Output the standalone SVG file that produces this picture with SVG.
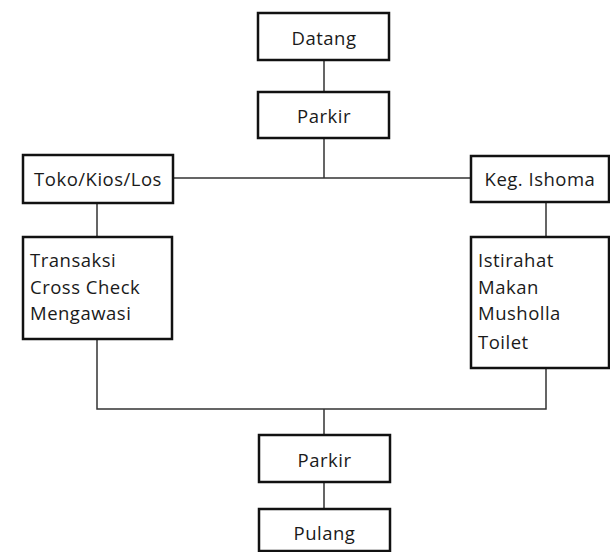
<svg xmlns="http://www.w3.org/2000/svg" width="610" height="552" viewBox="0 0 610 552">
<style>
.box{fill:#fff;stroke:#111;stroke-width:2.5}
.t{font-family:"Open Sans",sans-serif;font-size:18.5px;letter-spacing:0.5px;fill:#1a1a1a}
.c{text-anchor:middle}
.ln{stroke:#333;stroke-width:1.5;fill:none}
</style>
<rect width="610" height="552" fill="#fff"/>
<g id="connectors">
<path class="ln" d="M324 60V92M324 138V178M173 178H471M97 203V237M546 202V237M97 339V409H546V368M324 409V435M324 482V509"/>
</g>
<g id="datang"><rect class="box" x="258" y="13" width="131" height="47"/><text class="t c" x="324" y="45">Datang</text></g>
<g id="parkir1"><rect class="box" x="258" y="92" width="131" height="46"/><text class="t c" x="324" y="123">Parkir</text></g>
<g id="toko"><rect class="box" x="23" y="155" width="150" height="48"/><text class="t c" x="98" y="186">Toko/Kios/Los</text></g>
<g id="keg"><rect class="box" x="471" y="156" width="138" height="46"/><text class="t c" x="540" y="186">Keg. Ishoma</text></g>
<g id="transaksi"><rect class="box" x="23" y="237" width="149" height="102"/>
<text class="t" x="30" y="267">Transaksi</text><text class="t" x="30" y="294">Cross Check</text><text class="t" x="30" y="320">Mengawasi</text></g>
<g id="istirahat"><rect class="box" x="471" y="237" width="138" height="131"/>
<text class="t" x="478" y="267">Istirahat</text><text class="t" x="478" y="294">Makan</text><text class="t" x="478" y="320">Musholla</text><text class="t" x="478" y="349">Toilet</text></g>
<g id="parkir2"><rect class="box" x="259" y="435" width="131" height="47"/><text class="t c" x="324.5" y="467">Parkir</text></g>
<g id="pulang"><rect class="box" x="259" y="509" width="131" height="42"/><text class="t c" x="324.5" y="540">Pulang</text></g>
</svg>
